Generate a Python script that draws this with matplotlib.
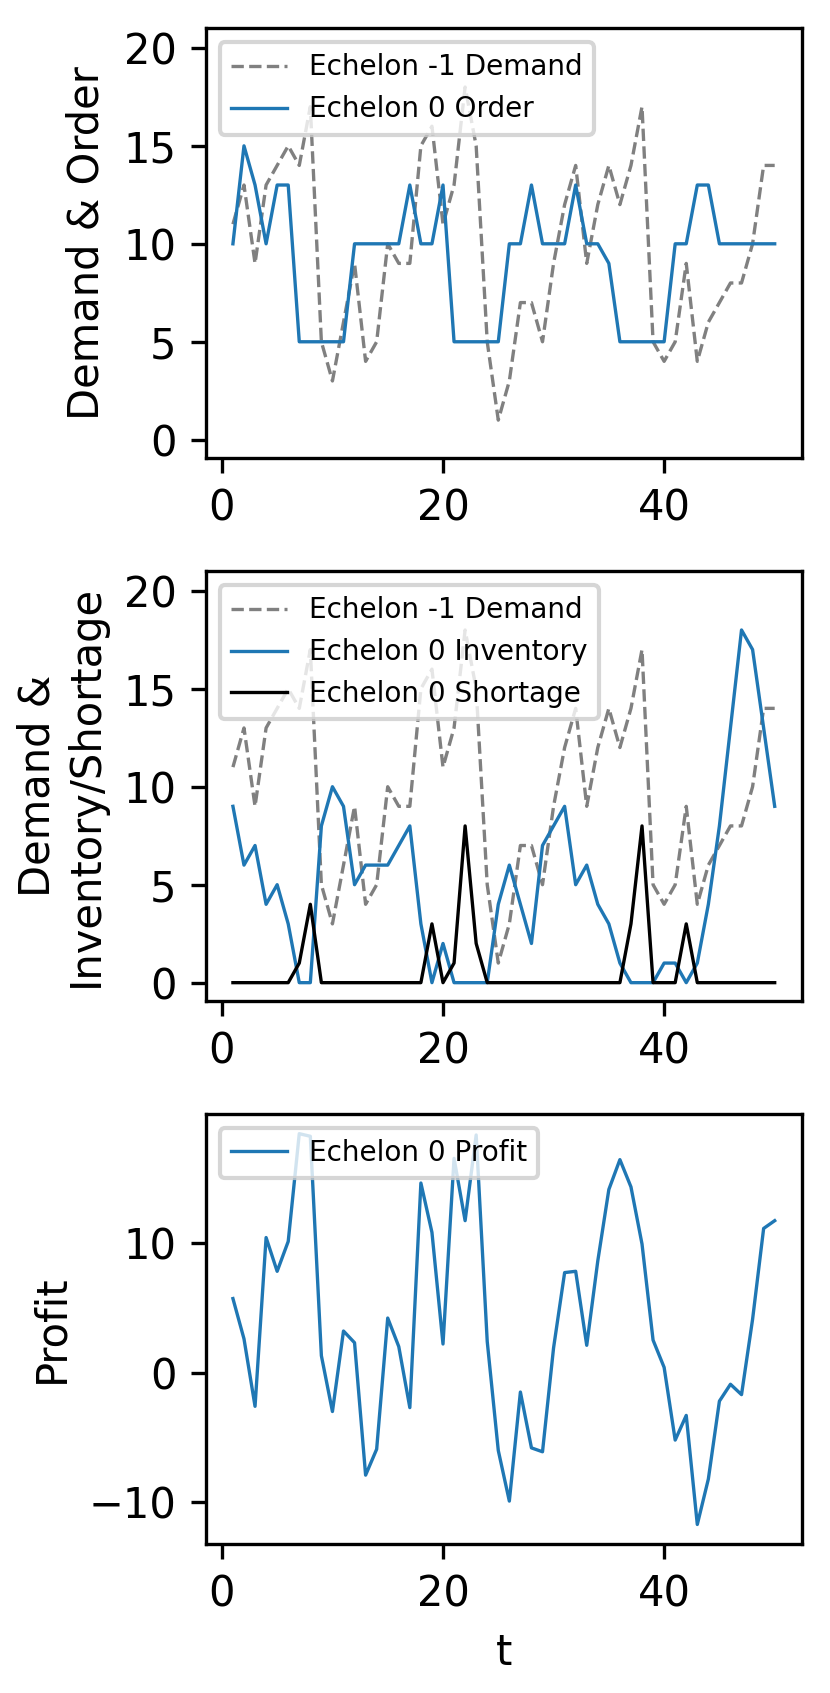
import numpy as np
import matplotlib
matplotlib.use('Agg')
import matplotlib.pyplot as plt

# periods
t = np.arange(1, 51)

# echelon -1 demand
demand = [11, 13, 9, 13, 14, 15, 14, 17, 5, 3,
          6, 9, 4, 5, 10, 9, 9, 15, 16, 11,
          13, 18, 15, 5, 1, 3, 7, 7, 5, 9,
          12, 14, 9, 12, 14, 12, 14, 17, 5, 4,
          5, 9, 4, 6, 7, 8, 8, 10, 14, 14]

# echelon 0 order
order = [10, 15, 13, 10, 13, 13, 5, 5, 5, 5,
         5, 10, 10, 10, 10, 10, 13, 10, 10, 13,
         5, 5, 5, 5, 5, 10, 10, 13, 10, 10,
         10, 13, 10, 10, 9, 5, 5, 5, 5, 5,
         10, 10, 13, 13, 10, 10, 10, 10, 10, 10]

# echelon 0 inventory / shortage
inventory = [9, 6, 7, 4, 5, 3, 0, 0, 8, 10,
             9, 5, 6, 6, 6, 7, 8, 3, 0, 2,
             0, 0, 0, 0, 4, 6, 4, 2, 7, 8,
             9, 5, 6, 4, 3, 1, 0, 0, 0, 1,
             1, 0, 1, 4, 8, 13, 18, 17, 13, 9]
shortage = [0, 0, 0, 0, 0, 0, 1, 4, 0, 0,
            0, 0, 0, 0, 0, 0, 0, 0, 3, 0,
            1, 8, 2, 0, 0, 0, 0, 0, 0, 0,
            0, 0, 0, 0, 0, 0, 3, 8, 0, 0,
            0, 3, 0, 0, 0, 0, 0, 0, 0, 0]

# echelon 0 profit
profit = [5.7, 2.6, -2.6, 10.4, 7.8, 10.1, 18.4, 18.2, 1.3, -3.0,
          3.2, 2.3, -7.9, -5.9, 4.2, 2.0, -2.7, 14.6, 10.8, 2.2,
          16.5, 11.7, 18.3, 2.4, -6.0, -9.9, -1.5, -5.8, -6.1, 1.9,
          7.7, 7.8, 2.1, 8.6, 14.1, 16.4, 14.3, 9.9, 2.5, 0.4,
          -5.2, -3.3, -11.7, -8.2, -2.2, -0.9, -1.7, 4.1, 11.1, 11.7]

lw = 0.8
leg_fs = 6.7

fig, axes = plt.subplots(3, 1, figsize=(830/300, 1693/300), dpi=300)
plt.subplots_adjust(left=0.248, right=0.966, top=0.9833, bottom=0.088, hspace=0.263)

ax = axes[0]
ax.plot(t, demand, '--', color='grey', lw=lw, label='Echelon -1 Demand')
ax.plot(t, order, color='tab:blue', lw=lw, label='Echelon 0 Order')
ax.set_ylim(-0.94, 21)
ax.set_yticks([0, 5, 10, 15, 20])
ax.set_ylabel('Demand & Order')
ax.legend(loc='upper left', fontsize=leg_fs)

ax = axes[1]
ax.plot(t, demand, '--', color='grey', lw=lw, label='Echelon -1 Demand')
ax.plot(t, inventory, color='tab:blue', lw=lw, label='Echelon 0 Inventory')
ax.plot(t, shortage, color='black', lw=lw, label='Echelon 0 Shortage')
ax.set_ylim(-0.94, 21)
ax.set_yticks([0, 5, 10, 15, 20])
ax.set_ylabel('Demand &\nInventory/Shortage')
ax.legend(loc='upper left', fontsize=leg_fs)

ax = axes[2]
ax.plot(t, profit, color='tab:blue', lw=lw, label='Echelon 0 Profit')
ax.set_ylabel('Profit')
ax.set_xlabel('t')
ax.legend(loc='upper left', fontsize=leg_fs)

for a in axes:
    a.set_xticks([0, 20, 40])

fig.savefig('out.png', dpi=300)
